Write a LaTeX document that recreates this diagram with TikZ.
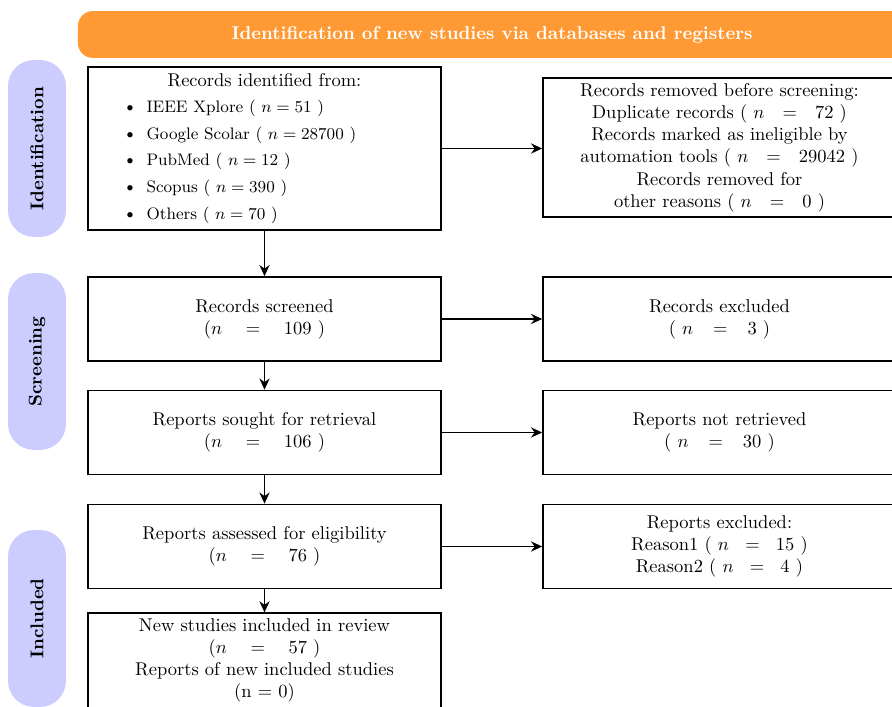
\documentclass[tikz,border=0pt]{standalone}
\usepackage{amsmath,amssymb}
\usepackage{tikz}
\usetikzlibrary{arrows.meta}
\definecolor{bannerorange}{RGB}{255,153,51}
\definecolor{phaseblue}{RGB}{204,204,255}
\newcommand{\srcitem}[1]{\makebox[5.38cm][l]{{\normalsize\textbullet}\hspace{5pt}#1}}

\begin{document}
\begin{tikzpicture}[x=0.019cm,y=-0.019cm,
		box/.style={draw,thick,rectangle,align=center,minimum width=6.71cm,inner sep=2pt},
		phase/.style={fill=phaseblue,rounded corners=14pt,minimum width=3.36cm,minimum height=1.1cm,rotate=90,font=\bfseries},
		flow/.style={thick,-{Stealth[length=6pt,width=5.5pt]}}]
		\useasboundingbox (0,0) rectangle (892,707);
		
		% Header
		\node[fill=bannerorange,rounded corners=8pt,minimum width=15.73cm,minimum height=0.89cm,text=white,font=\bfseries] (header) at (492,34.5) {Identification of new studies via databases and registers};
		
		% Phases
		\node[phase] (pident) at (37,148.5) {Identification};
		\node[phase] (pscreen) at (37,361.5) {Screening};
		\node[phase] (pincl) at (37,618.5) {Included};
		
		% Left column
		\node[box,minimum height=3.1cm,font=\small] (identified) at (264.5,148.5) {{\normalsize Records identified from:}\\[3pt]
			\srcitem{IEEE Xplore ( $n=51$ )}\\[3.5pt]
			\srcitem{Google Scolar ( $n=28700$ )}\\[3.5pt]
			\srcitem{PubMed ( $n=12$ )}\\[3.5pt]
			\srcitem{Scopus ( $n=390$ )}\\[3.5pt]
			\srcitem{Others ( $n=70$ )}};
		\node[box,minimum height=1.6cm] (screened) at (264.5,319) {Records screened\\ $(n \hspace{10pt} = \hspace{10pt} 109$ )};
		\node[box,minimum height=1.6cm] (sought) at (264.5,432.5) {Reports sought for retrieval\\ $(n \hspace{10pt} = \hspace{10pt} 106$ )};
		\node[box,minimum height=1.6cm] (assessed) at (264.5,546.5) {Reports assessed for eligibility\\ $(n \hspace{10pt} = \hspace{10pt} 76$ )};
		\node[box,minimum height=1.8cm] (included) at (264.5,660.5) {New studies included in review\\ $(n \hspace{10pt} = \hspace{10pt} 57$ )\\ Reports of new included studies\\ (n = 0)};
		
		% Right column
		\node[box,minimum height=2.64cm] (removed) at (719.5,147.5) {Records removed before screening:\\
			Duplicate records ( $n \hspace{7pt} = \hspace{7pt} 72$ )\\
			Records marked as ineligible by\\
			automation tools ( $n \hspace{7pt} = \hspace{7pt} 29042$ )\\
			Records removed for\\
			other reasons ( $n \hspace{7pt} = \hspace{7pt} 0$ )};
		\node[box,minimum height=1.6cm] (excluded) at (719.5,319) {Records excluded\\ ( $n \hspace{8pt} = \hspace{8pt} 3$ )};
		\node[box,minimum height=1.6cm] (notretr) at (719.5,432.5) {Reports not retrieved\\ ( $n \hspace{8pt} = \hspace{8pt} 30$ )};
		\node[box,minimum height=1.6cm] (reasons) at (719.5,546.5) {Reports excluded:\\ Reason1 ( $n \hspace{6pt} = \hspace{6pt} 15$ )\\ Reason2 ( $n \hspace{6pt} = \hspace{6pt} 4$ )};
		
		% Arrows
		\draw[flow] (identified) -- (screened);
		\draw[flow] (screened) -- (sought);
		\draw[flow] (sought) -- (assessed);
		\draw[flow] (assessed) -- (included);
		\draw[flow] (identified.east) -- (identified.east -| removed.west);
		\draw[flow] (screened) -- (excluded);
		\draw[flow] (sought) -- (notretr);
		\draw[flow] (assessed) -- (reasons);
\end{tikzpicture}
\end{document}
